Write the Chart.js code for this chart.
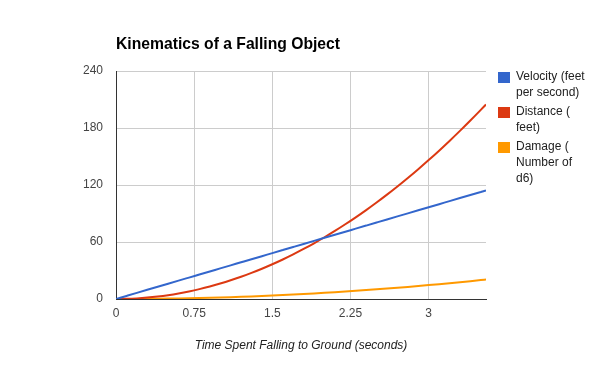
<!DOCTYPE html>
<html>
<head>
<meta charset="utf-8">
<script src="https://cdn.jsdelivr.net/npm/chart.js@4.4.1/dist/chart.umd.min.js"></script>
<style>
  body { margin: 0; background: #fff; }
  #wrap { position: relative; width: 600px; height: 371px; font-family: Arial, "Liberation Sans", sans-serif; }
  #title { position: absolute; left: 116px; top: 35px; font-size: 15.7px; font-weight: bold; color: #000; white-space: nowrap; }
  #legend { position: absolute; left: 498px; top: 68px; font-size: 12px; color: #222; line-height: 16px; }
  .item { position: relative; padding-left: 18px; margin-bottom: 3px; }
  .box { position: absolute; left: 0; top: 4px; width: 12px; height: 11px; }
</style>
</head>
<body>
<div id="wrap">
  <canvas id="chart" width="600" height="371"></canvas>
  <div id="title">Kinematics of a Falling Object</div>
  <div id="legend"></div>
</div>
<script>
const times = [0, 0.1, 0.2, 0.3, 0.4, 0.5, 0.6, 0.7, 0.8, 0.9, 1.0, 1.1, 1.2, 1.3, 1.4, 1.5, 1.6, 1.7, 1.8, 1.9,
    2.0, 2.1, 2.2, 2.3, 2.4, 2.5, 2.6, 2.7, 2.8, 2.9, 3.0, 3.1, 3.2, 3.3, 3.4, 3.5, 3.55];
const velocity = [0, 3.22, 6.44, 9.66, 12.88, 16.1, 19.32, 22.54, 25.76, 28.98, 32.2, 35.42, 38.64, 41.86, 45.08,
    48.3, 51.52, 54.74, 57.96, 61.18, 64.4, 67.62, 70.84, 74.06, 77.28, 80.5, 83.72, 86.94, 90.16, 93.38, 96.6,
    99.82, 103.04, 106.26, 109.48, 112.7, 114.31];
const distance = [0, 0.16, 0.65, 1.46, 2.6, 4.06, 5.85, 7.96, 10.4, 13.16, 16.25, 19.66, 23.4, 27.46, 31.85,
    36.56, 41.6, 46.96, 52.65, 58.66, 65, 71.66, 78.65, 85.96, 93.6, 101.56, 109.85, 118.46, 127.4, 136.66,
    146.25, 156.16, 166.4, 176.96, 187.85, 199.06, 204.79];
const damage = [0, 0.02, 0.07, 0.15, 0.26, 0.41, 0.59, 0.8, 1.04, 1.32, 1.63, 1.97, 2.34, 2.75, 3.19, 3.66,
    4.16, 4.7, 5.27, 5.87, 6.5, 7.17, 7.87, 8.6, 9.36, 10.16, 10.99, 11.85, 12.74, 13.67, 14.63, 15.62, 16.64,
    17.7, 18.79, 19.91, 20.48];

const seriesNames = [['Velocity (feet', 'per second)'], ['Distance (', 'feet)'], ['Damage (', 'Number of', 'd6)']];
const seriesColors = ['#3366cc', '#dc3912', '#ff9900'];
const xTitle = 'Time Spent Falling to Ground (seconds)';

const toPoints = (values) => values.map((v, i) => ({ x: times[i], y: v }));
const allSeries = [velocity, distance, damage];

// legend as html so the labels can wrap like the original
const legend = document.getElementById('legend');
seriesNames.forEach((lines, i) => {
    const item = document.createElement('div');
    item.className = 'item';
    item.innerHTML = `<span class="box" style="background:${seriesColors[i]}"></span>${lines.join('<br>')}`;
    legend.appendChild(item);
});

Chart.defaults.font.family = 'Arial, "Liberation Sans", sans-serif';

new Chart(document.getElementById('chart'), {
    type: 'line',
    data: {
        datasets: allSeries.map((values, i) => ({
            label: seriesNames[i].join(' '),
            data: toPoints(values),
            borderColor: seriesColors[i],
            backgroundColor: seriesColors[i],
            borderWidth: 2,
            pointRadius: 0,
            cubicInterpolationMode: 'monotone',
            fill: false
        }))
    },
    options: {
        responsive: false,
        animation: false,
        layout: { padding: { left: 0, right: 114, top: 71, bottom: 0 } },
        plugins: {
            legend: { display: false },
            title: { display: false },
            tooltip: { enabled: false }
        },
        scales: {
            x: {
                type: 'linear',
                min: 0,
                max: 3.55,
                afterFit: (scale) => { scale.height = 72; },
                grid: { color: '#cccccc', drawTicks: false },
                border: { color: '#333333', width: 1 },
                ticks: {
                    stepSize: 0.75,
                    includeBounds: false,
                    padding: 7,
                    color: '#444444',
                    font: { size: 12 },
                    callback: (v) => String(Math.round(v * 100) / 100)
                },
                title: {
                    display: true,
                    text: xTitle,
                    color: '#222222',
                    font: { size: 12, style: 'italic' },
                    padding: { top: 0, bottom: 18 }
                }
            },
            y: {
                min: 0,
                max: 240,
                afterFit: (scale) => { scale.width = 116; },
                grid: { color: '#cccccc', drawTicks: false },
                border: { color: '#333333', width: 1 },
                ticks: {
                    stepSize: 60,
                    padding: 13,
                    color: '#444444',
                    font: { size: 12 }
                }
            }
        }
    }
});
</script>
</body>
</html>
